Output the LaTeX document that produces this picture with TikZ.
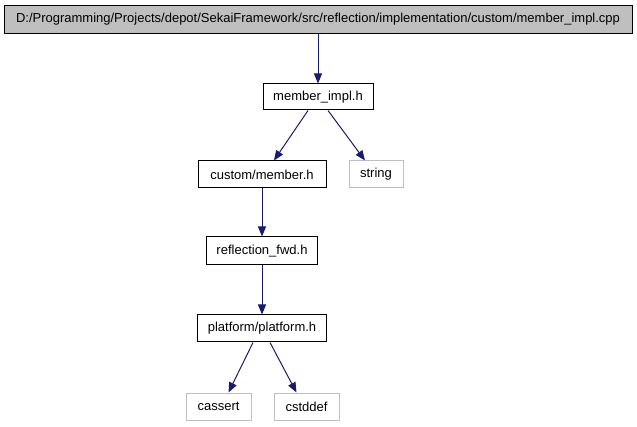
\documentclass[tikz,border=0pt]{standalone}
\usepackage{fontspec}
\setmainfont{Liberation Sans}
\usetikzlibrary{arrows.meta}
\definecolor{edgeblue}{HTML}{191970}
\definecolor{greybox}{HTML}{BFBFBF}
\definecolor{lightborder}{HTML}{BFBFBF}
\begin{document}
\begin{tikzpicture}[x=1pt,y=-1pt,
  box/.style={draw=black,line width=1pt,fill=white,inner sep=0pt,font=\fontsize{13}{15}\selectfont},
  extbox/.style={draw=lightborder,line width=1pt,fill=white,inner sep=0pt,font=\fontsize{13}{15}\selectfont},
  dep/.style={draw=edgeblue,line width=1pt,-{Triangle[length=10pt,width=8pt]}}]
\useasboundingbox (0,0) rectangle (637,427);
\node[box,fill=greybox,minimum width=628pt,minimum height=28pt] (top) at (318,19.5) {D:/Programming/Projects/depot/SekaiFramework/src/reflection/implementation/custom/member\_impl.cpp};
\node[box,minimum width=110pt,minimum height=26pt] (mi) at (318,97) {member\_impl.h};
\node[box,minimum width=128pt,minimum height=27pt] (cm) at (262,174.5) {custom/member.h};
\node[extbox,minimum width=54pt,minimum height=27pt] (str) at (376,174.5) {string};
\node[box,minimum width=111pt,minimum height=28pt] (rf) at (262,251) {reflection\_fwd.h};
\node[box,minimum width=129pt,minimum height=27pt] (pp) at (262,328.5) {platform/platform.h};
\node[extbox,minimum width=65pt,minimum height=27pt] (ca) at (218.5,406.5) {cassert};
\node[extbox,minimum width=65pt,minimum height=27pt] (cs) at (306.5,406.5) {cstddef};
\draw[dep] (top.south -| mi.north) -- (mi.north);
\draw[dep] ([xshift=-10pt]mi.south) -- ([xshift=12pt]cm.north);
\draw[dep] ([xshift=10pt]mi.south) -- ([xshift=-11pt]str.north);
\draw[dep] (cm.south) -- (rf.north);
\draw[dep] (rf.south) -- (pp.north);
\draw[dep] ([xshift=-9pt]pp.south) -- ([xshift=10pt]ca.north);
\draw[dep] ([xshift=8pt]pp.south) -- ([xshift=-10pt]cs.north);
\end{tikzpicture}
\end{document}
